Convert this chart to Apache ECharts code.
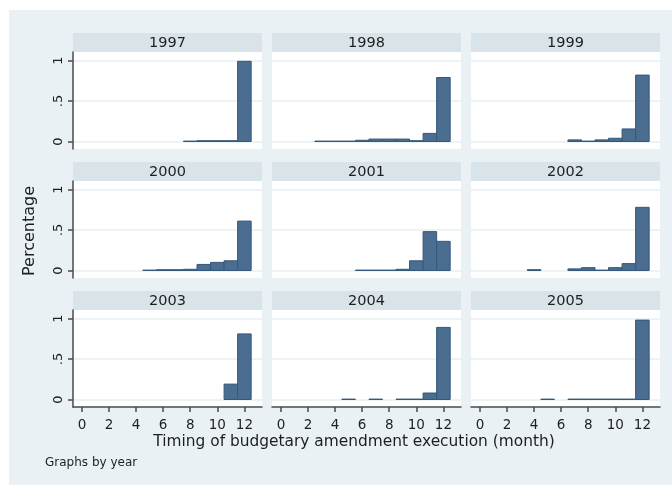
<!DOCTYPE html>
<html>
<head>
<meta charset="utf-8">
<script src="https://cdn.jsdelivr.net/npm/echarts@6/dist/echarts.min.js"></script>
<style>
  html, body { margin: 0; padding: 0; background: #ffffff; }
  #chart { width: 672px; height: 485px; }
</style>
</head>
<body>
<div id="chart"></div>
<script>
// Share of budgetary amendments executed in each month, one panel per year
const years = ['1997', '1998', '1999', '2000', '2001', '2002', '2003', '2004', '2005'];
const months = [0, 1, 2, 3, 4, 5, 6, 7, 8, 9, 10, 11, 12];
const n = null;
const share1997 = [n, n, n, n, n, n, n, n, 0.005, 0.01, 0.01, 0.01, 0.99];
const share1998 = [n, n, n, 0.005, 0.005, 0.005, 0.015, 0.03, 0.03, 0.03, 0.01, 0.10, 0.79];
const share1999 = [n, n, n, n, n, n, n, 0.02, 0.005, 0.02, 0.04, 0.155, 0.82];
const share2000 = [n, n, n, n, n, 0.005, 0.01, 0.01, 0.015, 0.075, 0.10, 0.12, 0.61];
const share2001 = [n, n, n, n, n, n, 0.005, 0.005, 0.005, 0.015, 0.12, 0.48, 0.36];
const share2002 = [n, n, n, n, 0.01, n, n, 0.02, 0.035, 0.005, 0.035, 0.085, 0.78];
const share2003 = [n, n, n, n, n, n, n, n, n, n, n, 0.19, 0.81];
const share2004 = [n, n, n, n, n, 0.005, n, 0.005, n, 0.005, 0.005, 0.08, 0.89];
const share2005 = [n, n, n, n, n, 0.005, n, 0.005, 0.005, 0.005, 0.005, 0.005, 0.98];
const shares = [share1997, share1998, share1999, share2000, share2001, share2002, share2003, share2004, share2005];

const yTickValues = [0, 0.5, 1];
const yTickLabels = ['0', '.5', '1'];
const xTickValues = [0, 2, 4, 6, 8, 10, 12];

const xAxisTitle = 'Timing of budgetary amendment execution (month)';
const yAxisTitle = 'Percentage';
const noteText = 'Graphs by year';

// layout of the 3x3 panel matrix
const FONT = 'DejaVu Sans';
const colLeft = [73, 272, 471];
const panelW = 189;
const stripTop = [33, 162, 291];
const stripH = 19;
const plotH = 97;
const BAR_FILL = '#4a6d90';
const BAR_EDGE = '#33587b';
const OUTER_BG = '#eaf1f4';
const STRIP_BG = '#d8e4ea';
const GRID_LINE = '#edf2f4';
const AXIS_COLOR = '#4a4a4a';
const TEXT_COLOR = '#1e1e1e';

const grids = [], xAxes = [], yAxes = [], series = [], graphics = [];

graphics.push({
  type: 'rect', z: -10, silent: true,
  shape: { x: 9, y: 10, width: 672 - 9, height: 485 - 10 },
  style: { fill: OUTER_BG }
});

years.forEach((yr, i) => {
  const row = Math.floor(i / 3), col = i % 3;
  const left = colLeft[col];
  const top = stripTop[row] + stripH;
  grids.push({ left: left, top: top, width: panelW, height: plotH, show: true,
    backgroundColor: '#ffffff', borderWidth: 0 });

  graphics.push({
    type: 'rect', silent: true, z: -5,
    shape: { x: left, y: stripTop[row], width: panelW, height: stripH },
    style: { fill: STRIP_BG }
  });
  graphics.push({
    type: 'text', silent: true,
    x: left + panelW / 2, y: stripTop[row] + stripH / 2 + 1,
    style: { text: yr, fill: TEXT_COLOR, font: '14.5px "' + FONT + '"',
      align: 'center', verticalAlign: 'middle' }
  });

  const bottomRow = row === 2;
  const firstCol = col === 0;
  xAxes.push({
    type: 'value', gridIndex: i, min: -0.66, max: 13.3,
    axisLine: { show: bottomRow, onZero: false, lineStyle: { color: AXIS_COLOR, width: 1.5 } },
    axisTick: { show: bottomRow, length: 5, customValues: xTickValues,
      lineStyle: { color: AXIS_COLOR, width: 1.5 } },
    axisLabel: { show: bottomRow, customValues: xTickValues, margin: 11,
      fontFamily: FONT, fontSize: 13.5, color: TEXT_COLOR },
    splitLine: { show: false }
  });
  yAxes.push({
    type: 'value', gridIndex: i, min: -0.0926, max: 1.105,
    axisLine: { show: firstCol, onZero: false, lineStyle: { color: AXIS_COLOR, width: 1.5 } },
    axisTick: { show: firstCol, length: 5, customValues: yTickValues,
      lineStyle: { color: AXIS_COLOR, width: 1.5 } },
    axisLabel: { show: firstCol, customValues: yTickValues, rotate: 90, margin: 8,
      fontFamily: FONT, fontSize: 13, color: TEXT_COLOR,
      formatter: v => yTickLabels[yTickValues.indexOf(v)] },
    splitLine: { show: true, lineStyle: { color: GRID_LINE, width: 2 } }
  });

  const data = [];
  months.forEach((m, k) => { if (shares[i][k] != null) data.push([m, shares[i][k]]); });
  series.push({
    type: 'custom', xAxisIndex: i, yAxisIndex: i, data: data,
    renderItem: function (params, api) {
      const m = api.value(0), v = api.value(1);
      const p0 = api.coord([m - 0.5, v]);
      const p1 = api.coord([m + 0.5, 0]);
      return {
        type: 'rect',
        shape: { x: p0[0], y: p0[1], width: p1[0] - p0[0], height: p1[1] - p0[1] },
        style: { fill: BAR_FILL, stroke: BAR_EDGE, lineWidth: 1 }
      };
    }
  });
});

graphics.push({
  type: 'text', silent: true, x: 354, y: 442,
  style: { text: xAxisTitle, fill: TEXT_COLOR, font: '15.4px "' + FONT + '"',
    align: 'center', verticalAlign: 'middle' }
});
graphics.push({
  type: 'text', silent: true, x: 30, y: 231, rotation: Math.PI / 2,
  style: { text: yAxisTitle, fill: TEXT_COLOR, font: '16px "' + FONT + '"',
    align: 'center', verticalAlign: 'middle' }
});
graphics.push({
  type: 'text', silent: true, x: 45, y: 463,
  style: { text: noteText, fill: TEXT_COLOR, font: '12px "' + FONT + '"',
    align: 'left', verticalAlign: 'middle' }
});

const chart = echarts.init(document.getElementById('chart'), null, { renderer: 'canvas' });
chart.setOption({
  animation: false,
  backgroundColor: 'transparent',
  grid: grids,
  xAxis: xAxes,
  yAxis: yAxes,
  series: series,
  graphic: graphics
});
</script>
</body>
</html>
